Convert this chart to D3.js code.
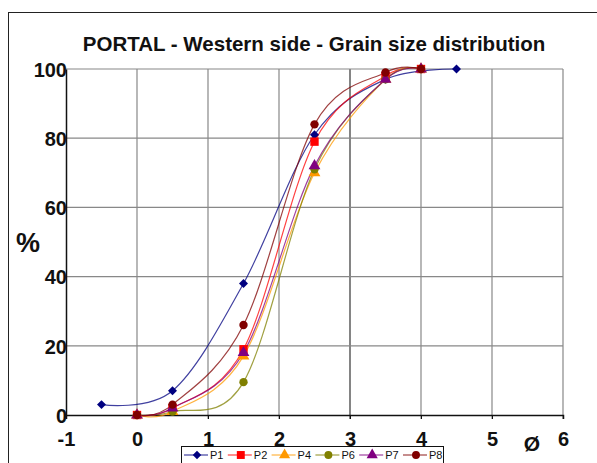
<html>
<head>
<title>Grain size distribution</title>
<style>
body { margin: 0; background: #fff; }
text { font-family: "Liberation Sans", Arial, sans-serif; }
</style>
</head>
<body>
<div id="chart"></div>
<script src="https://d3js.org/d3.v7.min.js"></script>
<script>
// data
var seriesNames = ['P1', 'P2', 'P4', 'P6', 'P7', 'P8'];
var xP1 = [-0.5, 0.5, 1.5, 2.5, 3.5, 4.5];
var yP1 = [3, 7, 38, 81, 97, 100];
var xOthers = [0, 0.5, 1.5, 2.5, 3.5, 4];
var yP2 = [0, 2, 19, 79, 98, 100];
var yP4 = [0, 1, 17, 70, 97, 100];
var yP6 = [0, 1, 9.5, 71, 97, 100];
var yP7 = [0, 2, 18, 72, 97, 100];
var yP8 = [0, 3, 26, 84, 99, 100];
var xTicks = [-1, 0, 1, 2, 3, 4, 5, 6];
var yTicks = [0, 20, 40, 60, 80, 100];

var colors = ['#000080', '#ff0000', '#ff9900', '#808000', '#800080', '#800000'];
var shapes = [d3.symbolSquare, d3.symbolSquare, d3.symbolTriangle, d3.symbolCircle, d3.symbolTriangle, d3.symbolCircle];
var rotations = [45, 0, 0, 0, 0, 0];
var sizes = [40, 70, 60, 55, 60, 55];

var series = [
  { x: xP1, y: yP1 }, { x: xOthers, y: yP2 }, { x: xOthers, y: yP4 },
  { x: xOthers, y: yP6 }, { x: xOthers, y: yP7 }, { x: xOthers, y: yP8 }
];

var width = 597, height = 463;
var svg = d3.select('#chart').append('svg').attr('width', width).attr('height', height);

//outer border
svg.append('rect').attr('x', 8.5).attr('y', 12.5).attr('width', 620).attr('height', 480)
  .attr('fill', 'none').attr('stroke', '#222').attr('stroke-width', 1);

var x = d3.scaleLinear().domain([-1, 6]).range([66, 563]);
var y = d3.scaleLinear().domain([0, 100]).range([415, 69]);

//title
svg.append('text').attr('x', 314).attr('y', 51).attr('text-anchor', 'middle')
  .attr('font-size', 20.5).attr('font-weight', 'bold').attr('fill', '#111')
  .text('PORTAL - Western side - Grain size distribution');

//grid
svg.append('g').selectAll('line').data(xTicks.slice(1)).enter().append('line')
  .attr('x1', function(d){ return x(d); }).attr('x2', function(d){ return x(d); })
  .attr('y1', y(100)).attr('y2', y(0) + 4)
  .attr('stroke', function(d){ return d == 3 ? '#333' : '#888'; }).attr('stroke-width', 1.2);
svg.append('g').selectAll('line').data(yTicks.slice(1)).enter().append('line')
  .attr('x1', x(-1)).attr('x2', x(6))
  .attr('y1', function(d){ return y(d); }).attr('y2', function(d){ return y(d); })
  .attr('stroke', '#888').attr('stroke-width', 1.2);

//axes (plain hyphen for negatives)
var fmt = function(d){ return String(d); };
var xAxis = svg.append('g').attr('transform', 'translate(0,' + y(0) + ')')
  .call(d3.axisBottom(x).tickValues(xTicks).tickSize(4).tickPadding(13).tickFormat(fmt));
var yAxis = svg.append('g').attr('transform', 'translate(' + x(-1) + ',0)')
  .call(d3.axisLeft(y).tickValues(yTicks).tickSize(0).tickPadding(-1).tickFormat(fmt));
[xAxis, yAxis].forEach(function(a){
  a.select('.domain').attr('stroke', '#111').attr('stroke-width', 1.5);
  a.selectAll('.tick line').attr('stroke', '#111');
  a.selectAll('text').attr('font-size', 20).attr('font-weight', 'bold').attr('fill', '#111')
    .attr('font-family', '"Liberation Sans", Arial, sans-serif');
});
yAxis.selectAll('text').attr('dy', '0.36em');

//axis labels
svg.append('text').attr('x', 28).attr('y', 252).attr('text-anchor', 'middle')
  .attr('font-size', 27).attr('font-weight', 'bold').attr('fill', '#111').text('%');
svg.append('text').attr('x', 532).attr('y', 451).attr('text-anchor', 'middle')
  .attr('font-size', 21).attr('font-weight', 'bold').attr('fill', '#111').text('Ø');

//lines
var line = d3.line().curve(d3.curveCatmullRom.alpha(0))
  .x(function(d){ return x(d[0]); }).y(function(d){ return y(d[1]); });

series.forEach(function(s, i){
  var pts = s.x.map(function(v, j){ return [v, s.y[j]]; });
  svg.append('path').datum(pts).attr('d', line).attr('fill', 'none')
    .attr('stroke', colors[i]).attr('stroke-opacity', 0.75).attr('stroke-width', 1.2);
});
series.forEach(function(s, i){
  s.x.forEach(function(v, j){
    svg.append('path').attr('d', d3.symbol().type(shapes[i]).size(sizes[i])())
      .attr('transform', 'translate(' + x(v) + ',' + y(s.y[j]) + ') rotate(' + rotations[i] + ')')
      .attr('fill', colors[i]);
  });
});

//legend
var legend = svg.append('g');
legend.append('rect').attr('x', 181.5).attr('y', 446.5).attr('width', 262).attr('height', 30)
  .attr('fill', '#fff').attr('stroke', '#111');
seriesNames.forEach(function(name, i){
  var lx = 184 + i * 43.8;
  legend.append('line').attr('x1', lx).attr('x2', lx + 24).attr('y1', 455).attr('y2', 455)
    .attr('stroke', colors[i]).attr('stroke-opacity', 0.6).attr('stroke-width', 1.5);
  legend.append('path').attr('d', d3.symbol().type(shapes[i]).size(sizes[i] * 0.9)())
    .attr('transform', 'translate(' + (lx + 13) + ',455) rotate(' + rotations[i] + ')').attr('fill', colors[i]);
  legend.append('text').attr('x', lx + 26).attr('y', 459).attr('font-size', 11)
    .attr('fill', '#111').text(name);
});
</script>
</body>
</html>
